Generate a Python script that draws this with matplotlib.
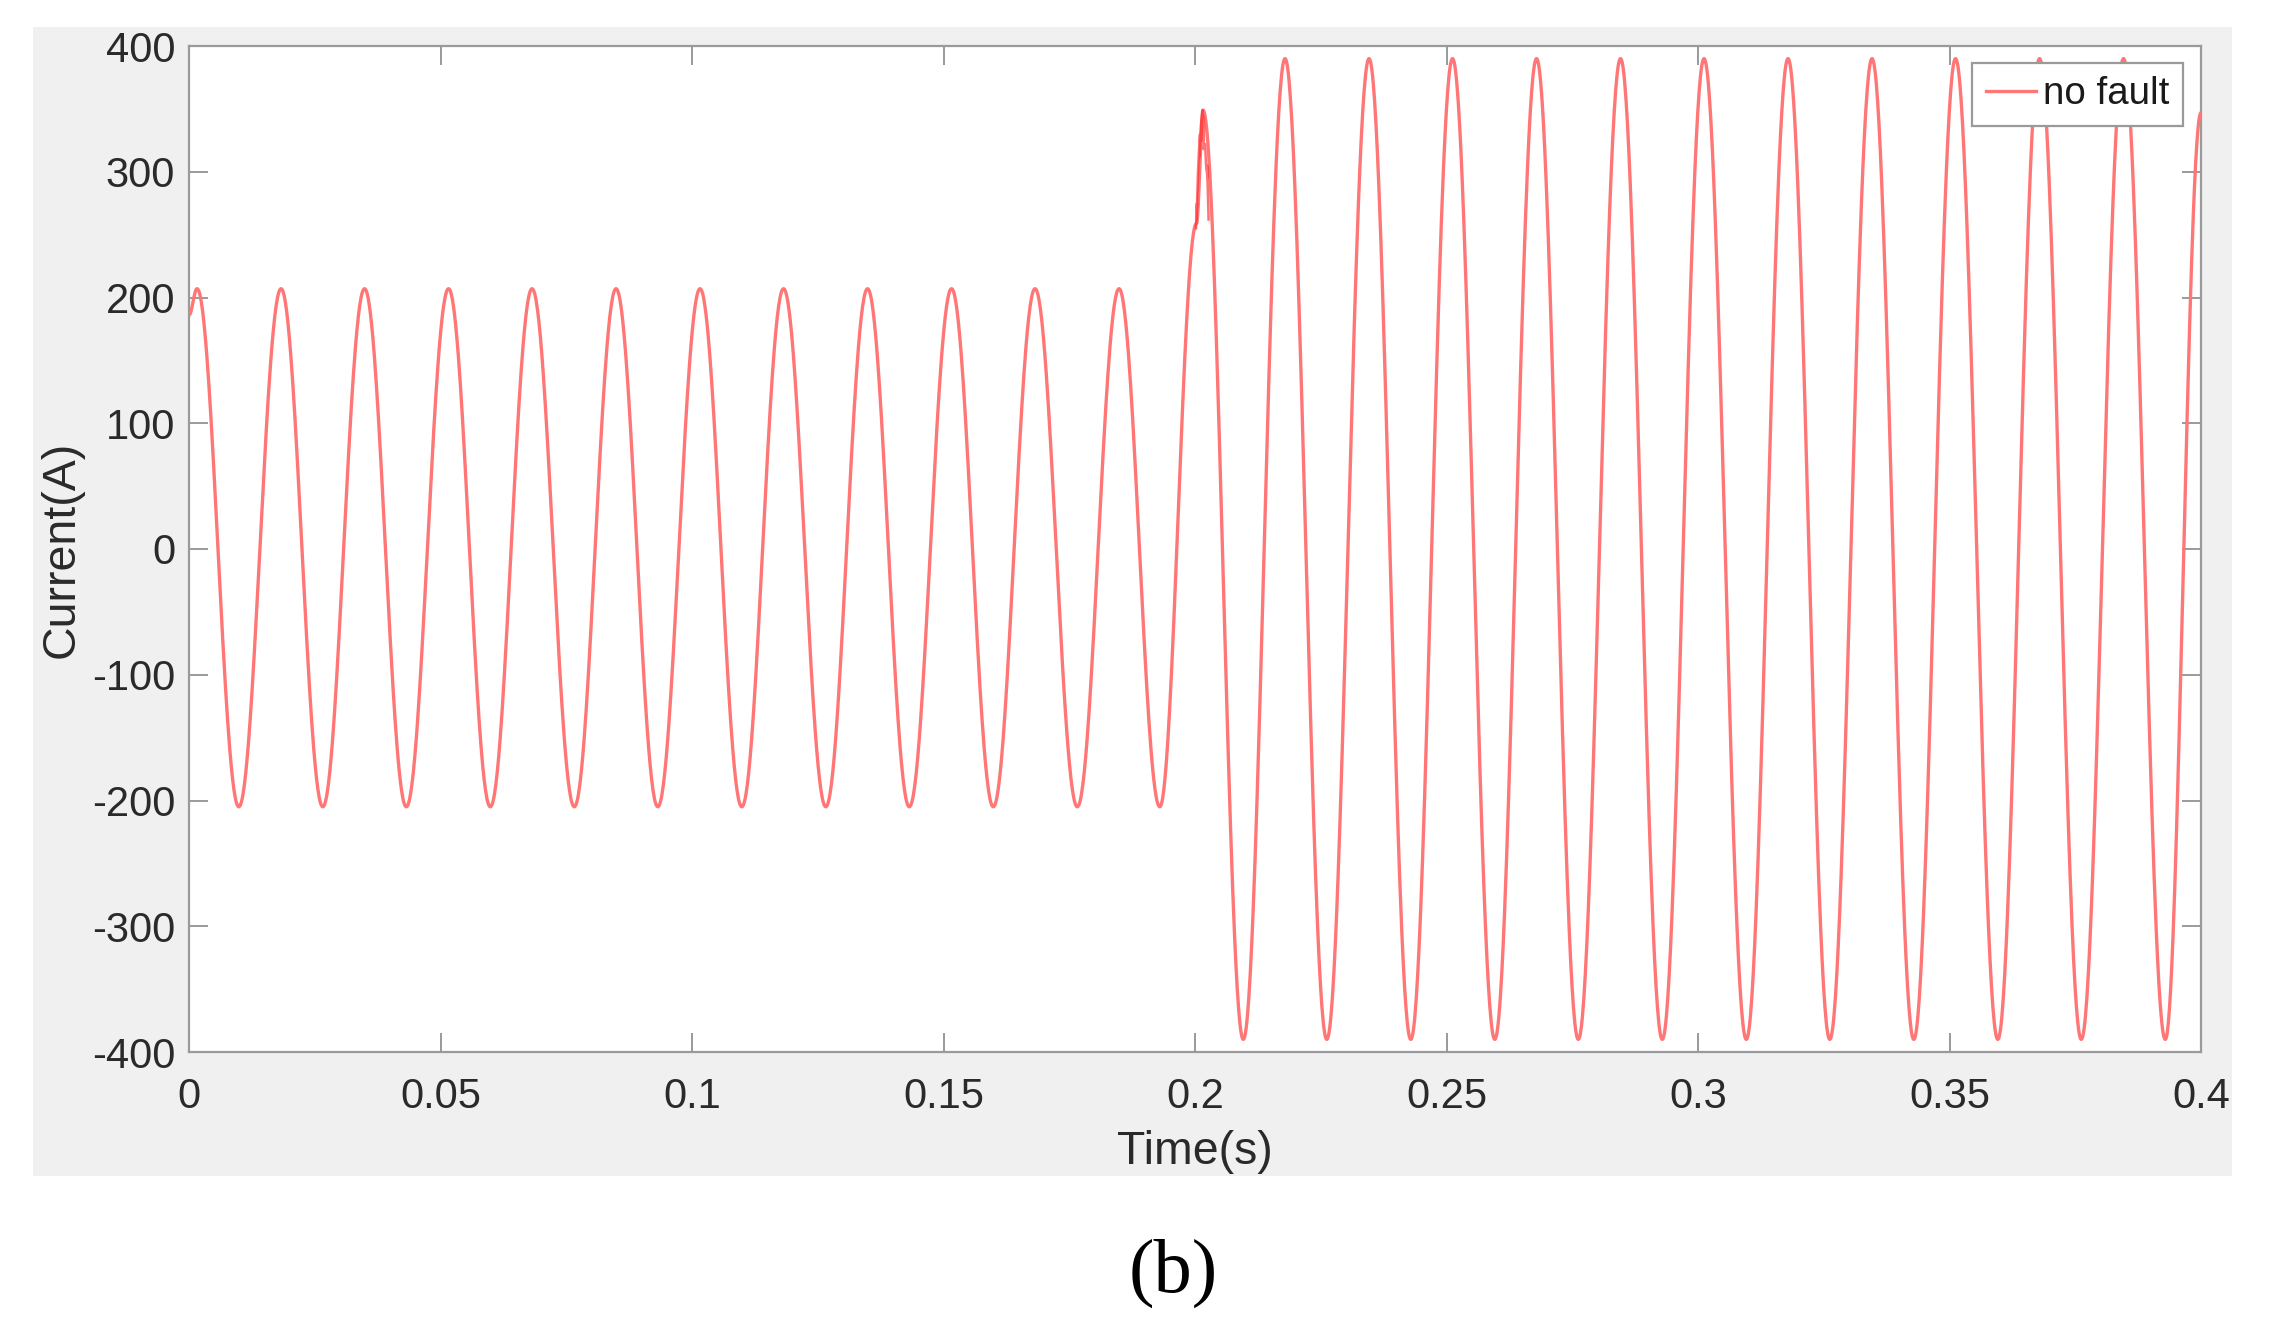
import numpy as np
import matplotlib
matplotlib.use("Agg")
import matplotlib.pyplot as plt
from matplotlib.patches import Rectangle

# ---------------- data ----------------
start_t, start_i = 0.0, 186.0

pre_peak_t = [0.0016, 0.0183, 0.0349, 0.0516, 0.0682, 0.0849, 0.1016, 0.1182,
              0.1349, 0.1516, 0.1682, 0.1849]
pre_peak_i = [207, 207, 207, 207, 207, 207, 207, 207, 207, 207, 207, 207]

pre_trough_t = [0.0099, 0.0266, 0.0432, 0.0599, 0.0766, 0.0932, 0.1099, 0.1266,
                0.1432, 0.1599, 0.1766, 0.1930]
pre_trough_i = [-205, -205, -205, -205, -205, -205, -205, -205,
                -205, -205, -205, -205]

fault_t = [0.2003, 0.2016]
fault_i = [259, 349]

post_trough_t = [0.2096, 0.2262, 0.2429, 0.2596, 0.2762, 0.2929, 0.3096, 0.3262,
                 0.3429, 0.3596, 0.3762, 0.3929]
post_trough_i = [-390, -390, -390, -390, -390, -390, -390, -390,
                 -390, -390, -390, -390]

post_peak_t = [0.2179, 0.2346, 0.2512, 0.2679, 0.2846, 0.3012, 0.3179, 0.3346,
               0.3512, 0.3679, 0.3846]
post_peak_i = [390, 390, 390, 390, 390, 390, 390, 390, 390, 390, 390]

end_t, end_i = 0.4, 347.0

# small transient spikes around the fault instant
noise_t = [0.2002, 0.2004, 0.2003, 0.2006, 0.2008, 0.2010, 0.2009, 0.2012,
           0.2015, 0.2013, 0.2016, 0.2018, 0.2017, 0.2020, 0.2022, 0.2025,
           0.2024, 0.2027]
noise_i = [255, 275, 262, 300, 318, 330, 312, 338, 349, 325, 345, 336, 318,
           322, 305, 295, 305, 262]

x_ticks = [0, 0.05, 0.1, 0.15, 0.2, 0.25, 0.3, 0.35, 0.4]
x_tick_labels = ['0', '0.05', '0.1', '0.15', '0.2', '0.25', '0.3', '0.35', '0.4']
y_ticks = [-400, -300, -200, -100, 0, 100, 200, 300, 400]
y_tick_labels = ['-400', '-300', '-200', '-100', '0', '100', '200', '300', '400']

series_label = 'no fault'
x_label = 'Time(s)'
y_label = 'Current(A)'
caption = '(b)'

# ---------------- build the waveform through the read extrema ----------------
knots = sorted(
    [(start_t, start_i), (end_t, end_i)]
    + list(zip(pre_peak_t, pre_peak_i)) + list(zip(pre_trough_t, pre_trough_i))
    + list(zip(fault_t, fault_i))
    + list(zip(post_trough_t, post_trough_i)) + list(zip(post_peak_t, post_peak_i))
)
ts, vs = [], []
for (t0, v0), (t1, v1) in zip(knots[:-1], knots[1:]):
    s = np.linspace(0, 1, 60, endpoint=False)
    ts.append(t0 + s * (t1 - t0))
    vs.append(v0 + (v1 - v0) * (1 - np.cos(np.pi * s)) / 2)
ts.append(np.array([knots[-1][0]]))
vs.append(np.array([knots[-1][1]]))
t_all = np.concatenate(ts)
v_all = np.concatenate(vs)

# ---------------- figure ----------------
W, H = 2275, 1335
fig = plt.figure(figsize=(W / 100, H / 100), dpi=100, facecolor='white')

bg = Rectangle((33 / W, 1 - 1176 / H), (2232 - 33) / W, (1176 - 27) / H,
               transform=fig.transFigure, facecolor='#f0f0f0',
               edgecolor='none', zorder=-10)
fig.patches.append(bg)

ax = fig.add_axes([189 / W, 1 - 1052 / H, (2201 - 189) / W, (1052 - 46) / H])
ax.set_zorder(1)
ax.set_facecolor('white')

sans = ['Liberation Sans', 'DejaVu Sans']
line_color = '#ff7676'

ax.plot(t_all, v_all, color=line_color, lw=2.4, label=series_label, zorder=3,
        solid_joinstyle='round')
ax.plot(noise_t, noise_i, color='#ff2a2a', lw=1.8, alpha=0.65, zorder=4)

ax.set_xlim(0, 0.4)
ax.set_ylim(-400, 400)
ax.set_xticks(x_ticks)
ax.set_xticklabels(x_tick_labels)
ax.set_yticks(y_ticks)
ax.set_yticklabels(y_tick_labels)

frame_color = '#9a9a9a'
for sp in ax.spines.values():
    sp.set_color(frame_color)
    sp.set_linewidth(1.6)

ax.tick_params(axis='both', direction='in', length=14, width=1.4, color=frame_color,
               labelcolor='#2a2a2a', labelsize=30, top=True, right=True)
ax.tick_params(axis='x', pad=18)
ax.tick_params(axis='y', pad=10)
for lab in ax.get_xticklabels() + ax.get_yticklabels():
    lab.set_family(sans)

ax.set_xlabel(x_label, fontsize=33.5, color='#2a2a2a', family=sans, va='center')
ax.xaxis.set_label_coords(0.5, -0.0994)
ax.set_ylabel(y_label, fontsize=33.5, color='#2a2a2a', family=sans, va='center')
ax.yaxis.set_label_coords(-0.0631, 0.5)

leg = ax.legend(loc='upper right', bbox_to_anchor=(0.9911, 0.9831), borderaxespad=0,
                fancybox=False, framealpha=1, edgecolor=frame_color,
                prop={'family': sans, 'size': 27.7}, handlelength=1.3,
                handletextpad=0.2, borderpad=0.35)
leg.get_frame().set_linewidth(1.6)
for txt in leg.get_texts():
    txt.set_color('#1a1a1a')

fig.text(1173 / W, 1 - 1273 / H, caption, fontsize=55,
         family=['Liberation Serif', 'DejaVu Serif'],
         ha='center', va='center', color='black')

fig.savefig('out.png', dpi=100, facecolor='white')
